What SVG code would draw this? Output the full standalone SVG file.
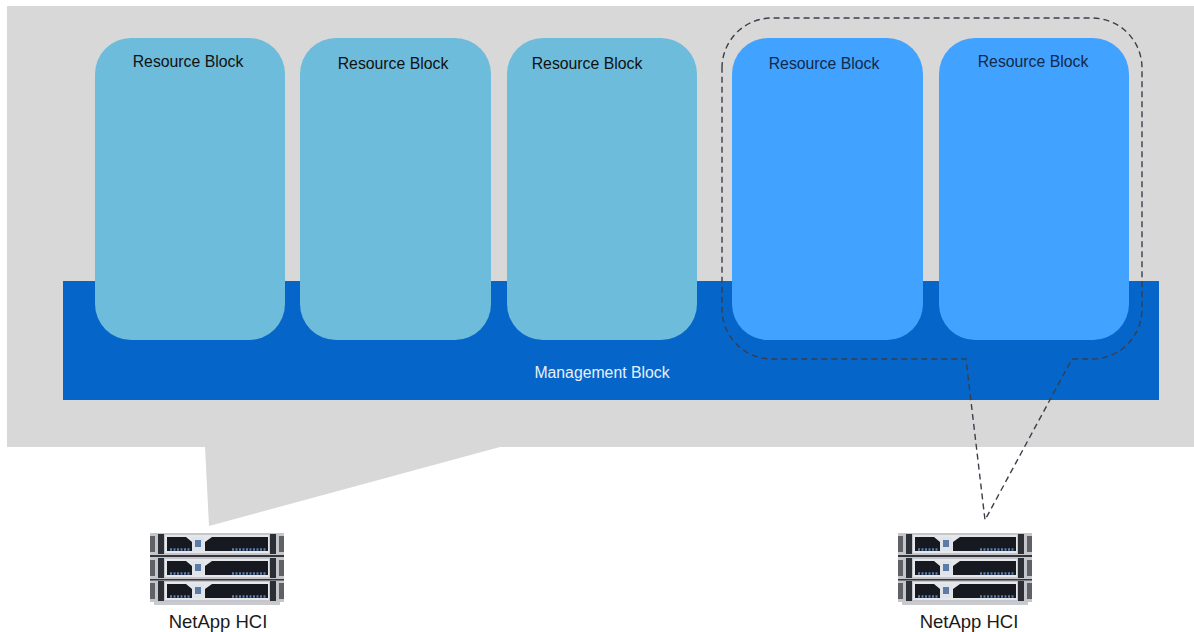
<svg xmlns="http://www.w3.org/2000/svg" width="1194" height="632" viewBox="0 0 1194 632">
<style>
.lb{font-family:"Liberation Sans",Arial,sans-serif;font-size:15.8px;fill:#111;text-anchor:middle}
.lbd{fill:#12294a}
.teal{fill:#6dbcdc}
.blue{fill:#42a2ff}
.cap{font-family:"Liberation Sans",Arial,sans-serif;font-size:18.5px;fill:#1a1a1a;text-anchor:middle}
</style>
<defs>
<g id="unit">
<rect x="0" y="0" width="134" height="22" fill="#c4c6cb"/>
<rect x="0" y="3" width="5" height="16" fill="#5f6167"/>
<rect x="8" y="1" width="6" height="20" fill="#2c2f35"/>
<rect x="120" y="1" width="6" height="20" fill="#2c2f35"/>
<rect x="129" y="3" width="5" height="16" fill="#5f6167"/>
<rect x="15" y="2" width="104" height="18" fill="#e6e7ea"/>
<path d="M17 4H36L42 9V18H17Z" fill="#16191f"/>
<path d="M55 9L62 4H118V18H55Z" fill="#16191f"/>
<rect x="42" y="4" width="12" height="14" fill="#dfe3ea"/>
<rect x="45" y="7" width="6" height="7" fill="#5c7ba6"/>
<path d="M20 16.500H40M82 16.500H116" stroke="#5d7fb0" stroke-width="2.500" stroke-dasharray="2 1.500" fill="none"/>
</g>
<g id="server">
<use href="#unit" y="0"/>
<use href="#unit" y="24"/>
<use href="#unit" y="47"/>
<rect x="0" y="22" width="134" height="2" fill="#33353b"/>
<rect x="0" y="46" width="134" height="1.500" fill="#33353b"/>
<rect x="4" y="69" width="126" height="3" fill="#c9cacd"/>
</g>
</defs>
<g id="enclosure"><path d="M7 6H1194V447H500L209 526L205 447H7Z" fill="#d8d8d8"/></g>
<g id="management-block">
<rect x="63" y="281" width="1096" height="119" fill="#0665c9"/>
<text x="602" y="378" font-family="'Liberation Sans',Arial,sans-serif" font-size="15.800" fill="#e6f0fb" text-anchor="middle">Management Block</text>
</g>
<g id="resource-block-1"><rect class="teal" x="95" y="38" width="190" height="302" rx="36"/><text class="lb" x="188" y="67">Resource Block</text></g>
<g id="resource-block-2"><rect class="teal" x="300" y="38" width="191" height="302" rx="36"/><text class="lb" x="393" y="69">Resource Block</text></g>
<g id="resource-block-3"><rect class="teal" x="507" y="38" width="190" height="302" rx="36"/><text class="lb" x="587" y="69">Resource Block</text></g>
<g id="resource-block-4"><rect class="blue" x="732" y="38" width="191" height="302" rx="36"/><text class="lb lbd" x="824" y="69">Resource Block</text></g>
<g id="resource-block-5"><rect class="blue" x="939" y="38" width="190" height="302" rx="36"/><text class="lb lbd" x="1033" y="67">Resource Block</text></g>
<g id="server-1"><use href="#server" x="150" y="533"/><text class="cap" x="218" y="628">NetApp HCI</text></g>
<g id="server-2"><use href="#server" x="898" y="533"/><text class="cap" x="969" y="628">NetApp HCI</text></g>
<g id="connectors">
<path d="M722 68A50 50 0 0 1 772 18H1092A50 50 0 0 1 1142 68V309A50 50 0 0 1 1092 359H1072L985 520L966 359H772A50 50 0 0 1 722 309Z" fill="none" stroke="#3a3f4a" stroke-width="1.400" stroke-dasharray="6 4"/>
</g>
</svg>
